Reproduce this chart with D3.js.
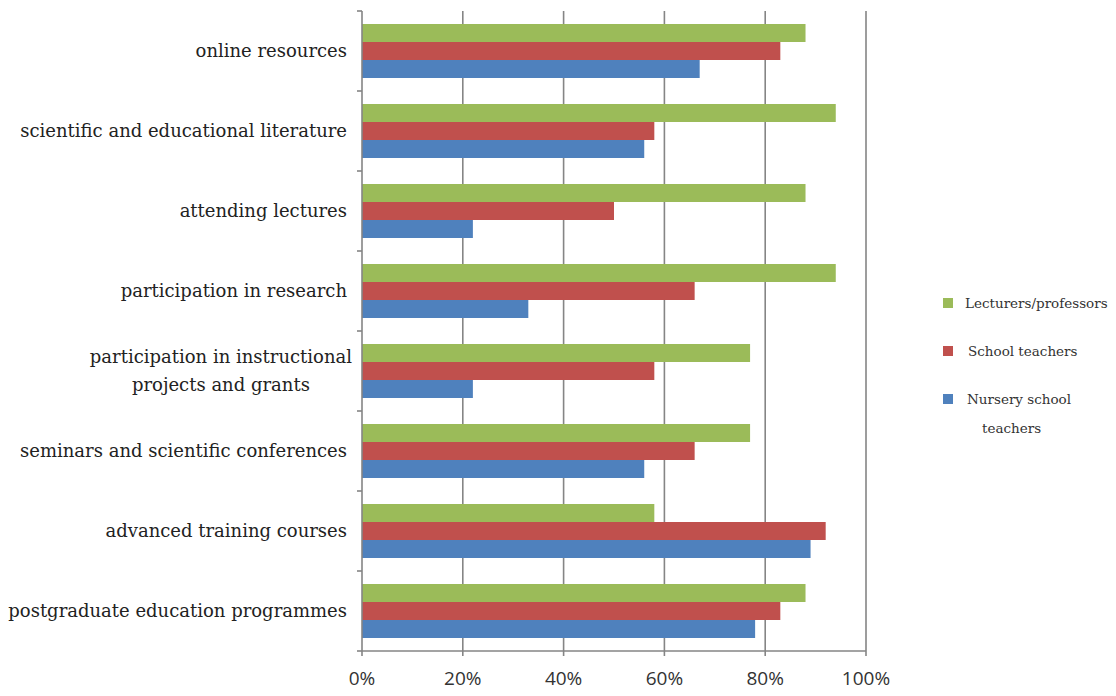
<!DOCTYPE html>
<html><head><meta charset="utf-8">
<script src="https://cdn.jsdelivr.net/npm/d3@7"></script>
<style>body{margin:0;background:#fff}</style>
</head><body>
<svg id="c" width="1116" height="696"></svg>
<script>
const categories = [
  ["online resources"],
  ["scientific and educational literature"],
  ["attending lectures"],
  ["participation in research"],
  ["participation in instructional", "projects and grants"],
  ["seminars and scientific conferences"],
  ["advanced training courses"],
  ["postgraduate education programmes"]
];
const seriesNames = ["Lecturers/professors", "School teachers", "Nursery school teachers"];
const lecturers = [88, 94, 88, 94, 77, 77, 58, 88];
const schoolTeachers = [83, 58, 50, 66, 58, 66, 92, 83];
const nursery = [67, 56, 22, 33, 22, 56, 89, 78];
const xTicks = [0, 20, 40, 60, 80, 100];
const colors = ["#9BBB59", "#C0504D", "#4F81BD"];

const svg = d3.select("#c");
const x = d3.scaleLinear().domain([0, 100]).range([362, 866]);
const y0 = d3.scaleBand().domain(d3.range(categories.length)).range([11, 651]).paddingInner(0.325).paddingOuter(0.1625);
const y1 = d3.scaleBand().domain(d3.range(3)).range([0, y0.bandwidth()]);
const yBound = d3.scaleLinear().domain([0, categories.length]).range([11, 651]);

// gridlines
svg.append("g").selectAll("line").data(xTicks.slice(1)).join("line")
  .attr("x1", d => x(d)).attr("x2", d => x(d))
  .attr("y1", 11).attr("y2", 651)
  .attr("stroke", "#858585").attr("stroke-width", 1.6);

// bars
const series = [lecturers, schoolTeachers, nursery];
const g = svg.append("g");
series.forEach((vals, si) => {
  g.selectAll(null).data(vals).join("rect")
    .attr("x", x(0))
    .attr("y", (d, i) => y0(i) + y1(si))
    .attr("width", d => x(d) - x(0))
    .attr("height", y1.bandwidth())
    .attr("fill", colors[si]);
});

// left axis
svg.append("line").attr("x1", x(0)).attr("x2", x(0)).attr("y1", 11).attr("y2", 651)
  .attr("stroke", "#858585").attr("stroke-width", 1.6);
svg.append("g").selectAll("line").data(d3.range(categories.length + 1)).join("line")
  .attr("x1", x(0) - 5).attr("x2", x(0))
  .attr("y1", d => yBound(d)).attr("y2", d => yBound(d))
  .attr("stroke", "#858585").attr("stroke-width", 1.6);

// bottom axis
svg.append("line").attr("x1", x(0)).attr("x2", x(100)).attr("y1", 651).attr("y2", 651)
  .attr("stroke", "#858585").attr("stroke-width", 1.6);
svg.append("g").selectAll("line").data(xTicks).join("line")
  .attr("x1", d => x(d)).attr("x2", d => x(d)).attr("y1", 651).attr("y2", 656)
  .attr("stroke", "#858585").attr("stroke-width", 1.6);
svg.append("g").selectAll("text").data(xTicks).join("text")
  .attr("x", d => x(d)).attr("y", 685)
  .attr("text-anchor", "middle")
  .attr("font-family", "'Open Sans', 'Liberation Sans', sans-serif")
  .attr("font-size", 19).attr("fill", "#333")
  .text(d => d + "%");

// category labels
const labG = svg.append("g").attr("font-family", "'DejaVu Serif', serif")
  .attr("font-size", 18).attr("fill", "#222");
categories.forEach((lines, i) => {
  const cy = y0(i) + y0.bandwidth() / 2;
  if (lines.length === 1) {
    labG.append("text").attr("x", 347).attr("y", cy).attr("dy", "0.33em")
      .attr("text-anchor", "end").text(lines[0]);
  } else {
    const t0 = labG.append("text").attr("x", 352).attr("y", cy - 14).attr("dy", "0.33em")
      .attr("text-anchor", "end").text(lines[0]);
    const w = t0.node().getComputedTextLength();
    labG.append("text").attr("x", 352 - w / 2).attr("y", cy + 14).attr("dy", "0.33em")
      .attr("text-anchor", "middle").text(lines[1]);
  }
});

// legend
const legendY = [303, 351, 399];
const leg = svg.append("g").attr("font-family", "'DejaVu Serif', serif")
  .attr("font-size", 13.5).attr("fill", "#333");
seriesNames.forEach((name, i) => {
  leg.append("rect").attr("x", 943).attr("y", legendY[i] - 5).attr("width", 10).attr("height", 10).attr("fill", colors[i]);
  if (i < 2) {
    leg.append("text").attr("x", i === 0 ? 965 : 968).attr("y", legendY[i]).attr("dy", "0.35em").text(name);
  } else {
    leg.append("text").attr("x", 967).attr("y", legendY[i]).attr("dy", "0.35em").text("Nursery school");
    leg.append("text").attr("x", 982).attr("y", legendY[i] + 29).attr("dy", "0.35em").text("teachers");
  }
});
</script>
</body></html>
